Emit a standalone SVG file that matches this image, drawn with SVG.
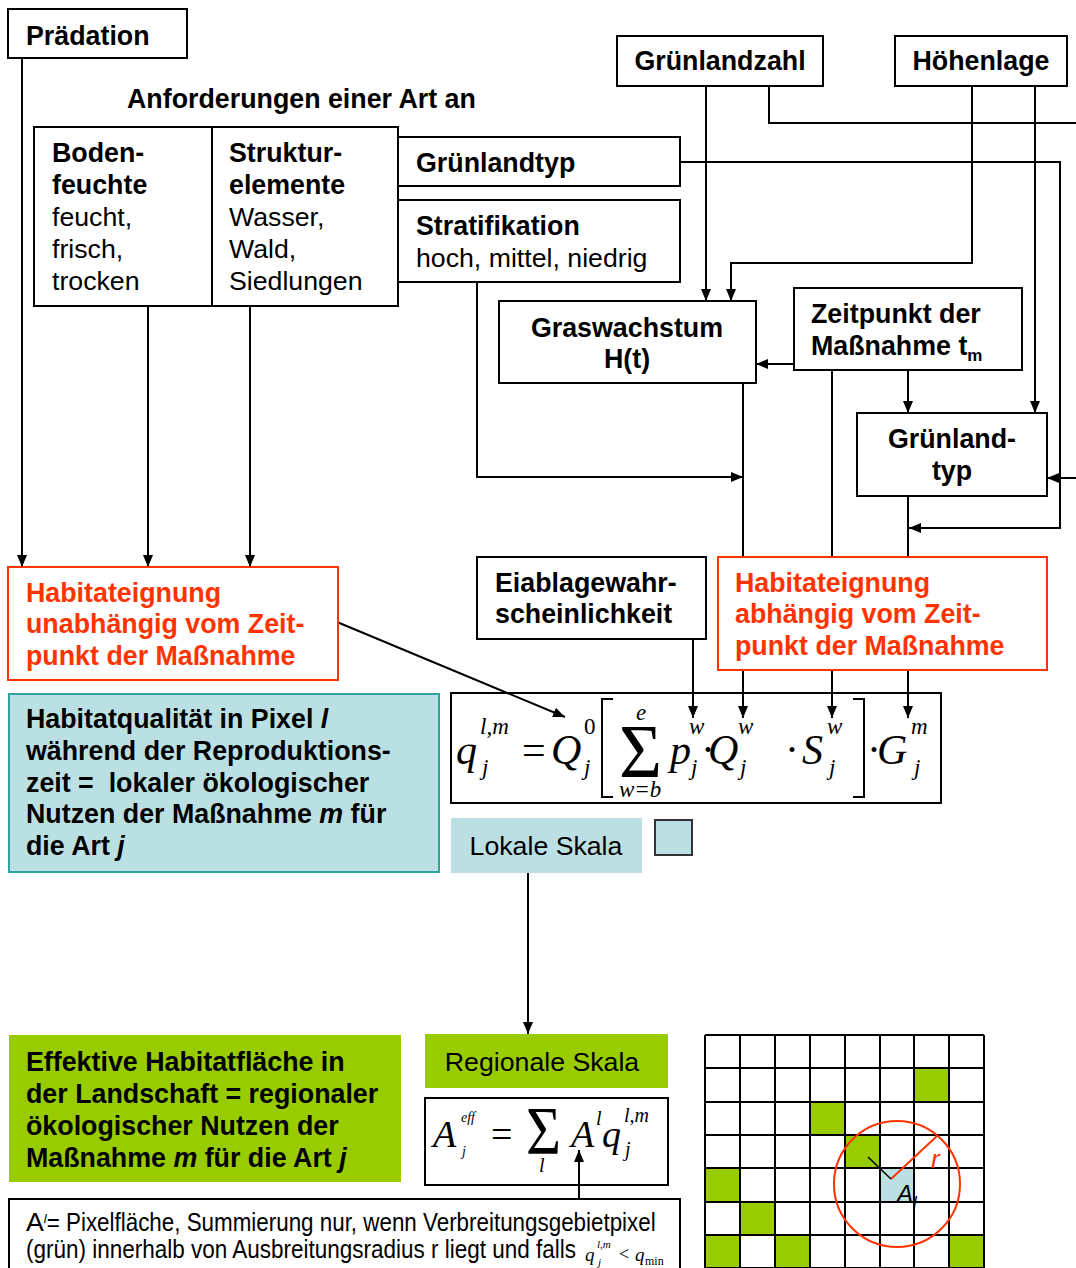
<svg xmlns="http://www.w3.org/2000/svg" width="1076" height="1268" viewBox="0 0 1076 1268">
<defs>
<marker id="ah" viewBox="0 0 12 10" refX="12" refY="5" markerWidth="12" markerHeight="10" orient="auto" markerUnits="userSpaceOnUse"><path d="M0,0 L12,5 L0,10 z" fill="#000"/></marker>
<style>
.box{fill:#fff;stroke:#000;stroke-width:2}
.red{fill:#fff;stroke:#FF3300;stroke-width:2}
.b{font-family:"Liberation Sans",Arial,sans-serif;font-weight:bold;font-size:26.8px;fill:#000}
.n{font-family:"Liberation Sans",Arial,sans-serif;font-size:26.7px;fill:#000}
.rt{font-family:"Liberation Sans",Arial,sans-serif;font-weight:bold;font-size:26.8px;fill:#FF3300}
.m{font-family:"Liberation Serif","Times New Roman",serif;font-style:italic;fill:#000}
.mn{font-family:"Liberation Serif","Times New Roman",serif;fill:#000}
.up{font-style:normal}
.c{fill:none;stroke:#000;stroke-width:2}
.ca{fill:none;stroke:#000;stroke-width:2;marker-end:url(#ah)}
.g{fill:#99CC00}
.lb{fill:#BBDFE3}
</style>
</defs>
<rect width="1076" height="1268" fill="#fff"/>

<g id="connectors">
<path class="ca" d="M22 58 V567"/>
<path class="ca" d="M148 306 V567"/>
<path class="ca" d="M250 306 V567"/>
<path class="ca" d="M706 86 V301"/>
<path class="c" d="M769 86 V123 H1076"/>
<path class="ca" d="M972 86 V263 H731 V301"/>
<path class="ca" d="M1035 86 V413"/>
<path class="ca" d="M680 162 H1060 V528 H909"/>
<path class="ca" d="M1076 478 H1047"/>
<path class="ca" d="M794 364 H756"/>
<path class="ca" d="M908 370 V413"/>
<path class="ca" d="M477 282 V477 H743"/>
<path class="c" d="M743 383 V557"/>
<path class="ca" d="M743 670 V718"/>
<path class="c" d="M832 370 V557"/>
<path class="ca" d="M832 670 V718"/>
<path class="c" d="M908 496 V557"/>
<path class="ca" d="M908 670 V718"/>
<path class="ca" d="M693 639 V718"/>
<path class="ca" d="M325 617 L565 717"/>
<path class="ca" d="M528 872 V1034"/>
<path class="ca" d="M579 1199 V1150"/>
</g>

<g id="praedation">
<rect class="box" x="8" y="9" width="179" height="49"/>
<text class="b" x="26" y="45">Prädation</text>
</g>

<g id="anforderungen">
<text class="b" x="127" y="108">Anforderungen einer Art an</text>
</g>

<g id="bodenfeuchte">
<rect class="box" x="34" y="127" width="178" height="179"/>
<text class="b" x="52" y="162">Boden-</text>
<text class="b" x="52" y="194">feuchte</text>
<text class="n" x="52" y="226">feucht,</text>
<text class="n" x="52" y="258">frisch,</text>
<text class="n" x="52" y="290">trocken</text>
</g>

<g id="strukturelemente">
<rect class="box" x="212" y="127" width="186" height="179"/>
<text class="b" x="229" y="162">Struktur-</text>
<text class="b" x="229" y="194">elemente</text>
<text class="n" x="229" y="226">Wasser,</text>
<text class="n" x="229" y="258">Wald,</text>
<text class="n" x="229" y="290">Siedlungen</text>
</g>

<g id="gruenlandtyp-top">
<rect class="box" x="398" y="137" width="282" height="49"/>
<text class="b" x="416" y="172">Grünlandtyp</text>
</g>

<g id="stratifikation">
<rect class="box" x="398" y="200" width="282" height="82"/>
<text class="b" x="416" y="235">Stratifikation</text>
<text class="n" x="416" y="267">hoch, mittel, niedrig</text>
</g>

<g id="gruenlandzahl">
<rect class="box" x="617" y="36" width="206" height="50"/>
<text class="b" x="720" y="70" text-anchor="middle">Grünlandzahl</text>
</g>

<g id="hoehenlage">
<rect class="box" x="895" y="36" width="172" height="50"/>
<text class="b" x="981" y="70" text-anchor="middle">Höhenlage</text>
</g>

<g id="graswachstum">
<rect class="box" x="499" y="301" width="257" height="82"/>
<text class="b" x="627" y="337" text-anchor="middle">Graswachstum</text>
<text class="b" x="627" y="368" text-anchor="middle">H(t)</text>
</g>

<g id="zeitpunkt">
<rect class="box" x="794" y="288" width="228" height="82"/>
<text class="b" x="811" y="323">Zeitpunkt der</text>
<text class="b" x="811" y="355">Maßnahme t<tspan font-size="17" dy="6">m</tspan></text>
</g>

<g id="gruenlandtyp">
<rect class="box" x="857" y="413" width="190" height="83"/>
<text class="b" x="952" y="448" text-anchor="middle">Grünland-</text>
<text class="b" x="952" y="480" text-anchor="middle">typ</text>
</g>

<g id="eiablage">
<rect class="box" x="477" y="557" width="229" height="82"/>
<text class="b" x="495" y="592">Eiablagewahr-</text>
<text class="b" x="495" y="623">scheinlichkeit</text>
</g>

<g id="habitateignung-abhaengig">
<rect class="red" x="718" y="557" width="329" height="113"/>
<text class="rt" x="735" y="592">Habitateignung</text>
<text class="rt" x="735" y="623">abhängig vom Zeit-</text>
<text class="rt" x="735" y="655">punkt der Maßnahme</text>
</g>

<g id="habitateignung-unabhaengig">
<rect class="red" x="8" y="567" width="330" height="113"/>
<text class="rt" x="26" y="602">Habitateignung</text>
<text class="rt" x="26" y="633">unabhängig vom Zeit-</text>
<text class="rt" x="26" y="665">punkt der Maßnahme</text>
</g>

<g id="habitatqualitaet">
<rect x="9" y="694" width="430" height="178" fill="#BBE0E3" stroke="#2FA39E" stroke-width="2"/>
<text class="b" x="26" y="728">Habitatqualität in Pixel <tspan font-style="italic">l</tspan></text>
<text class="b" x="26" y="760">während der Reproduktions-</text>
<text class="b" x="26" y="792" xml:space="preserve">zeit =  lokaler ökologischer</text>
<text class="b" x="26" y="823">Nutzen der Maßnahme <tspan font-style="italic">m</tspan> für</text>
<text class="b" x="26" y="855">die Art <tspan font-style="italic">j</tspan></text>
</g>

<g id="formel-lokal">
<rect x="451" y="693" width="490" height="110" fill="none" stroke="#000" stroke-width="2"/>
<text class="m" font-size="42"><tspan x="456" y="764">q</tspan><tspan x="480" y="734" font-size="23">l,m</tspan><tspan x="482" y="775" font-size="23">j</tspan><tspan class="up" x="522" y="764">=</tspan><tspan x="551" y="764">Q</tspan><tspan class="up" x="584" y="734" font-size="23">0</tspan><tspan x="584" y="775" font-size="23">j</tspan><tspan x="636" y="720" font-size="23">e</tspan><tspan x="619" y="797" font-size="23">w=b</tspan><tspan x="670" y="764">p</tspan><tspan x="689" y="734" font-size="23">w</tspan><tspan x="691" y="775" font-size="23">j</tspan><tspan class="up" x="701" y="764">·</tspan><tspan x="708" y="764">Q</tspan><tspan x="738" y="734" font-size="23">w</tspan><tspan x="740" y="775" font-size="23">j</tspan><tspan class="up" x="785" y="764">·</tspan><tspan x="802" y="764">S</tspan><tspan x="827" y="734" font-size="23">w</tspan><tspan x="829" y="775" font-size="23">j</tspan><tspan class="up" x="867" y="764">·</tspan><tspan x="877" y="764">G</tspan><tspan x="911" y="734" font-size="23">m</tspan><tspan x="914" y="775" font-size="23">j</tspan></text>
<path d="M613 699 H602 V797 H613" fill="none" stroke="#000" stroke-width="2"/>
<text class="mn" x="619" y="777" font-size="76" textLength="43" lengthAdjust="spacingAndGlyphs">Σ</text>
<path d="M853 699 H864 V797 H853" fill="none" stroke="#000" stroke-width="2"/>
</g>

<g id="lokale-skala">
<rect class="lb" x="451" y="818" width="191" height="55"/>
<text class="n" x="546" y="855" text-anchor="middle">Lokale Skala</text>
</g>

<g id="legende-lokal">
<rect x="655" y="820" width="37" height="35" fill="#BBDFE3" stroke="#333" stroke-width="2"/>
</g>

<g id="effektive-habitatflaeche">
<rect class="g" x="9" y="1035" width="392" height="147"/>
<text class="b" x="26" y="1071">Effektive Habitatfläche in</text>
<text class="b" x="26" y="1103">der Landschaft = regionaler</text>
<text class="b" x="26" y="1135">ökologischer Nutzen der</text>
<text class="b" x="26" y="1167">Maßnahme <tspan font-style="italic">m</tspan> für die Art <tspan font-style="italic">j</tspan></text>
</g>

<g id="regionale-skala">
<rect class="g" x="425" y="1034" width="243" height="54"/>
<text class="n" x="542" y="1071" text-anchor="middle">Regionale Skala</text>
</g>

<g id="formel-regional">
<rect x="425" y="1098" width="243" height="87" fill="none" stroke="#000" stroke-width="2"/>
<text class="m" font-size="38"><tspan x="433" y="1147">A</tspan><tspan x="461" y="1122" font-size="14">eff</tspan><tspan x="462" y="1156" font-size="14">j</tspan><tspan class="up" x="491" y="1147">=</tspan><tspan x="539" y="1172" font-size="20">l</tspan><tspan x="571" y="1147">A</tspan><tspan x="596" y="1125" font-size="20">l</tspan><tspan x="602" y="1147">q</tspan><tspan x="624" y="1122" font-size="20">l,m</tspan><tspan x="625" y="1156" font-size="20">j</tspan></text>
<text class="mn" x="526" y="1153" font-size="68" textLength="35" lengthAdjust="spacingAndGlyphs">Σ</text>
</g>

<g id="erlaeuterung">
<rect x="9" y="1199" width="671" height="80" fill="#fff" stroke="#000" stroke-width="2"/>
<text class="n" x="26" y="1231" font-size="20">A<tspan font-style="italic" font-size="13" dy="-8">l</tspan><tspan dy="8" textLength="609" lengthAdjust="spacingAndGlyphs">= Pixelfläche, Summierung nur, wenn Verbreitungsgebietpixel</tspan></text>
<text class="n" x="26" y="1258" font-size="20"><tspan textLength="550" lengthAdjust="spacingAndGlyphs">(grün) innerhalb von Ausbreitungsradius r liegt und falls</tspan><tspan class="m" x="585" y="1261" font-size="19">q</tspan><tspan class="m" x="597" y="1248" font-size="11">l,m</tspan><tspan class="m" x="598" y="1266" font-size="11">j</tspan><tspan class="mn" x="619" y="1260" font-size="18">&lt;</tspan><tspan class="m" x="635" y="1261" font-size="19">q</tspan><tspan class="mn" x="645" y="1265" font-size="12">min</tspan></text>
</g>

<g id="raster">
<rect x="705" y="1035" width="279" height="233" fill="#fff"/>
<rect class="g" x="914" y="1068" width="35" height="34"/>
<rect class="g" x="810" y="1102" width="35" height="33"/>
<rect class="g" x="845" y="1135" width="35" height="33"/>
<rect class="g" x="705" y="1168" width="35" height="34"/>
<rect class="lb" x="880" y="1168" width="34" height="34"/>
<rect class="g" x="740" y="1202" width="35" height="33"/>
<rect class="g" x="705" y="1235" width="35" height="33"/>
<rect class="g" x="775" y="1235" width="35" height="33"/>
<rect class="g" x="949" y="1235" width="35" height="33"/>
<path d="M705 1035 V1268 M740 1035 V1268 M775 1035 V1268 M810 1035 V1268 M845 1035 V1268 M880 1035 V1268 M914 1035 V1268 M949 1035 V1268 M984 1035 V1268 M705 1035 H984 M705 1068 H984 M705 1102 H984 M705 1135 H984 M705 1168 H984 M705 1202 H984 M705 1235 H984 M705 1268 H984" fill="none" stroke="#000" stroke-width="2"/>
<circle cx="897" cy="1184" r="63" fill="none" stroke="#FF3300" stroke-width="2"/>
<path d="M891 1179 L937 1136" stroke="#FF3300" stroke-width="2" fill="none"/>
<path d="M868 1157 L891 1179" stroke="#000" stroke-width="1.5" fill="none"/>
<text x="931" y="1168" font-family="Liberation Sans,Arial,sans-serif" font-style="italic" font-size="26" fill="#FF3300">r</text>
<text x="897" y="1202" font-family="Liberation Sans,Arial,sans-serif" font-style="italic" font-size="24" fill="#000">A<tspan font-size="17" dy="6">l</tspan></text>
</g>
</svg>
